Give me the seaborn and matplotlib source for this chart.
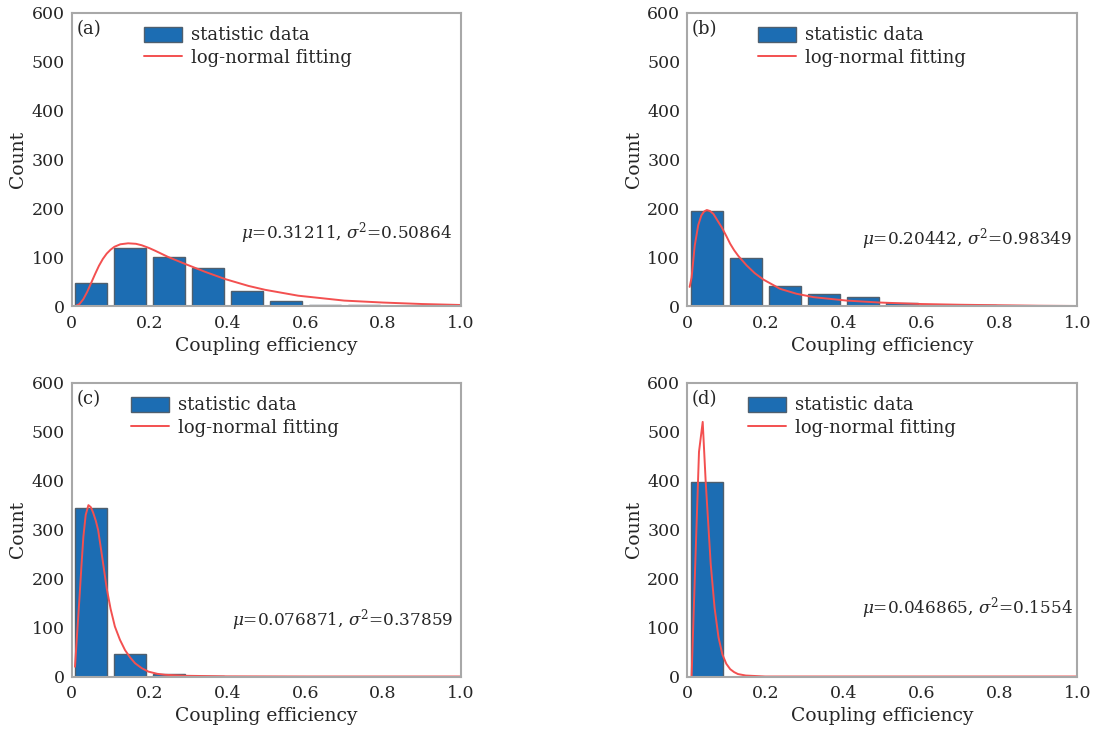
import numpy as np
import pandas as pd
import seaborn as sns
import matplotlib
matplotlib.use("Agg")
import matplotlib.pyplot as plt
from matplotlib.patches import Patch
from matplotlib.lines import Line2D

# histogram data (bin centres, counts per panel)
bin_edges = [0.0, 0.1, 0.2, 0.3, 0.4, 0.5, 0.6, 0.7, 0.8, 0.9, 1.0]
bin_centers = [0.05, 0.15, 0.25, 0.35, 0.45, 0.55, 0.65, 0.75, 0.85, 0.95]
counts_a = [48, 120, 101, 79, 31, 12, 3, 2, 0, 0]
counts_b = [195, 99, 42, 25, 19, 7, 3, 2, 1, 0]
counts_c = [345, 45, 6, 1, 0, 0, 0, 0, 0, 0]
counts_d = [398, 0, 0, 0, 0, 0, 0, 0, 0, 0]

# log-normal fitting curves
fit_x_a = [0.0085, 0.02, 0.03, 0.04, 0.05, 0.06, 0.07, 0.08, 0.09, 0.1,
           0.11, 0.125, 0.145, 0.165, 0.18, 0.2, 0.214, 0.248, 0.291, 0.342,
           0.394, 0.454, 0.497, 0.582, 0.7, 0.8, 0.9, 1.0]
fit_y_a = [0, 5, 15, 30, 48, 66, 83, 97, 108, 116,
           122, 127, 129, 128, 125, 119, 114, 101, 87, 71,
           56, 42, 34, 22, 12, 8, 5, 3]

fit_x_b = [0.006, 0.011, 0.019, 0.028, 0.036, 0.043, 0.05, 0.058, 0.067, 0.077,
           0.088, 0.1, 0.11, 0.12, 0.131, 0.152, 0.173, 0.195, 0.238, 0.28,
           0.324, 0.409, 0.494, 0.6, 0.7, 0.8, 0.9, 1.0]
fit_y_b = [40, 59, 124, 166, 186, 194, 197, 195, 189, 176,
           162, 144, 128, 115, 103, 84, 68, 55, 36, 26,
           19, 12, 8, 5, 3.5, 2.5, 1.5, 1]

fit_x_c = [0.0085, 0.015, 0.02, 0.025, 0.03, 0.036, 0.043, 0.049, 0.055, 0.062,
           0.068, 0.075, 0.08, 0.09, 0.1, 0.111, 0.124, 0.137, 0.15, 0.163,
           0.18, 0.197, 0.22, 0.24, 0.29, 0.4, 0.6, 1.0]
fit_y_c = [20, 100, 160, 225, 285, 330, 350, 346, 335, 318,
           299, 262, 235, 180, 138, 102, 75, 54, 39, 27,
           17, 10, 5.5, 3.5, 1.5, 0.3, 0, 0]

fit_x_d = [0.011, 0.02, 0.03, 0.0395, 0.047, 0.06, 0.07, 0.08, 0.09, 0.1,
           0.11, 0.12, 0.13, 0.15, 0.2, 0.5, 1.0]
fit_y_d = [0, 220, 459, 520, 400, 230, 140, 80, 45, 26,
           15, 9, 5, 2, 0, 0, 0]

panel_labels = ["(a)", "(b)", "(c)", "(d)"]
stats_text = [
    r"$\mu$=0.31211, $\sigma^2$=0.50864",
    r"$\mu$=0.20442, $\sigma^2$=0.98349",
    r"$\mu$=0.076871, $\sigma^2$=0.37859",
    r"$\mu$=0.046865, $\sigma^2$=0.1554",
]

sns.set_style("white")
plt.rcParams["font.family"] = ["DejaVu Serif"]
plt.rcParams["mathtext.fontset"] = "dejavuserif"

bar_color = "#1c6db3"
edge_color = "#4f5f6e"
line_color = "#f35050"
spine_color = "#a8a8a8"

fig = plt.figure(figsize=(10.96, 7.29), dpi=100)

# axes rectangles in figure fractions
rects = [
    [0.0654, 0.5796, 0.3552, 0.403],
    [0.6271, 0.5796, 0.3558, 0.403],
    [0.0654, 0.0720, 0.3552, 0.403],
    [0.6271, 0.0720, 0.3558, 0.403],
]
all_counts = [counts_a, counts_b, counts_c, counts_d]
all_fit = [(fit_x_a, fit_y_a), (fit_x_b, fit_y_b), (fit_x_c, fit_y_c), (fit_x_d, fit_y_d)]
legend_x = [0.172, 0.168, 0.138, 0.143]
text_pos = [(0.976, 0.251), (0.986, 0.23), (0.979, 0.193), (0.988, 0.233)]

for i in range(4):
    ax = fig.add_axes(rects[i])
    df = pd.DataFrame({"x": bin_centers, "count": all_counts[i]})
    sns.histplot(
        data=df, x="x", weights="count", bins=bin_edges, shrink=0.82,
        color=bar_color, alpha=1, edgecolor=edge_color, linewidth=1.0, ax=ax,
    )
    fx, fy = all_fit[i]
    sns.lineplot(x=fx, y=fy, color=line_color, linewidth=1.4, ax=ax,
                 estimator=None, sort=False)

    ax.set_xlim(0, 1.0)
    ax.set_ylim(0, 600)
    ax.set_xticks([0, 0.2, 0.4, 0.6, 0.8, 1.0])
    ax.set_xticklabels(["0", "0.2", "0.4", "0.6", "0.8", "1.0"])
    ax.set_yticks([0, 100, 200, 300, 400, 500, 600])
    ax.tick_params(direction="in", length=4, width=1, color=spine_color,
                   labelsize=12.5, pad=5)
    ax.tick_params(axis="x", pad=6)
    for s in ax.spines.values():
        s.set_color(spine_color)
        s.set_linewidth(1.5)
    ax.set_xlabel("Coupling efficiency", fontsize=13.5, labelpad=4)
    ax.set_ylabel("Count", fontsize=13.5, labelpad=3)

    ax.text(0.012, 0.975, panel_labels[i], transform=ax.transAxes,
            ha="left", va="top", fontsize=13)
    ax.text(text_pos[i][0], text_pos[i][1], stats_text[i], transform=ax.transAxes,
            ha="right", va="center", fontsize=12.2)

    handles = [
        Patch(facecolor=bar_color, edgecolor=edge_color, linewidth=1.0),
        Line2D([0], [0], color=line_color, linewidth=1.4),
    ]
    ax.legend(handles, ["statistic data", "log-normal fitting"],
              loc="upper left", bbox_to_anchor=(legend_x[i], 0.972),
              frameon=False, fontsize=13, handlelength=2.1, handleheight=0.9,
              handletextpad=0.5, borderpad=0.3, labelspacing=0.25,
              borderaxespad=0.0)

fig.savefig("out.png", dpi=100)
